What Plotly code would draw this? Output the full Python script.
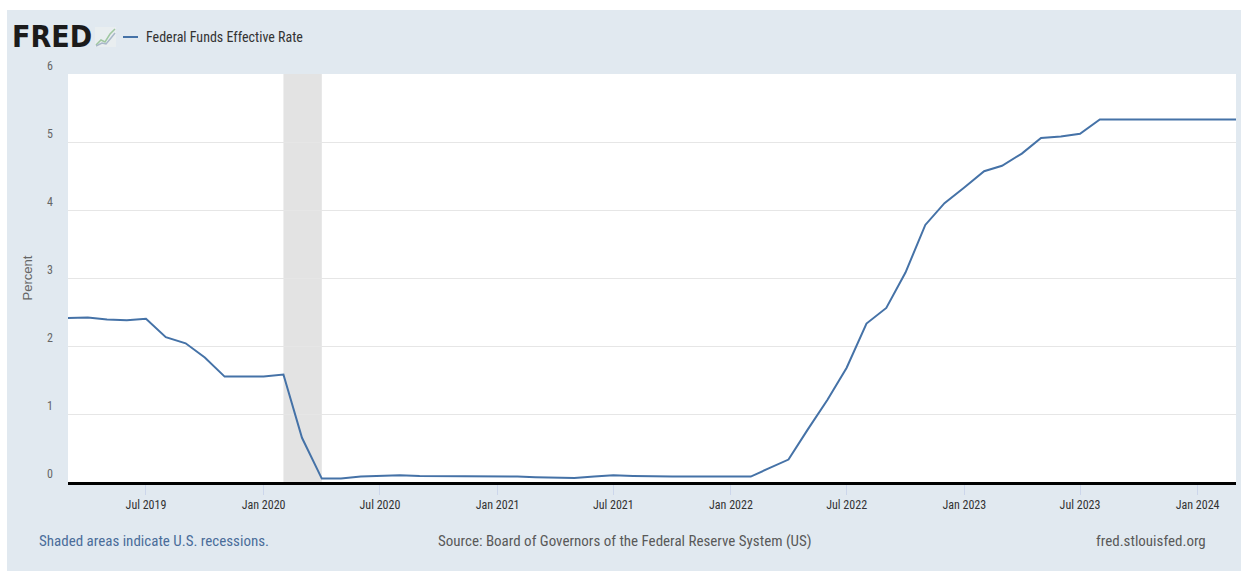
import plotly.graph_objects as go

# ---- data (monthly, first of month) ----
months = [
    "2019-03", "2019-04", "2019-05", "2019-06", "2019-07", "2019-08", "2019-09", "2019-10", "2019-11", "2019-12",
    "2020-01", "2020-02", "2020-03", "2020-04", "2020-05", "2020-06", "2020-07", "2020-08", "2020-09", "2020-10", "2020-11", "2020-12",
    "2021-01", "2021-02", "2021-03", "2021-04", "2021-05", "2021-06", "2021-07", "2021-08", "2021-09", "2021-10", "2021-11", "2021-12",
    "2022-01", "2022-02", "2022-03", "2022-04", "2022-05", "2022-06", "2022-07", "2022-08", "2022-09", "2022-10", "2022-11", "2022-12",
    "2023-01", "2023-02", "2023-03", "2023-04", "2023-05", "2023-06", "2023-07", "2023-08", "2023-09", "2023-10", "2023-11", "2023-12",
    "2024-01", "2024-02", "2024-03",
]
fed_funds_rate = [
    2.41, 2.42, 2.39, 2.38, 2.40, 2.13, 2.04, 1.83, 1.55, 1.55,
    1.55, 1.58, 0.65, 0.05, 0.05, 0.08, 0.09, 0.10, 0.09, 0.09, 0.09, 0.09,
    0.09, 0.08, 0.07, 0.07, 0.06, 0.08, 0.10, 0.09, 0.08, 0.08, 0.08, 0.08,
    0.08, 0.08, 0.20, 0.33, 0.77, 1.21, 1.68, 2.33, 2.56, 3.08, 3.78, 4.10,
    4.33, 4.57, 4.65, 4.83, 5.06, 5.08, 5.12, 5.33, 5.33, 5.33, 5.33, 5.33,
    5.33, 5.33, 5.33,
]
recession_start = "2020-02-01"
recession_end = "2020-04-01"
series_name = "Federal Funds Effective Rate"
y_title = "Percent"
footer_left = "Shaded areas indicate U.S. recessions."
footer_mid = "Source: Board of Governors of the Federal Reserve System (US)"
footer_right = "fred.stlouisfed.org"

dates = [m + "-01" for m in months]

# ---- layout geometry (pixels) ----
W, H = 1248, 571
L, R, T, B = 68, 1236, 74, 482
PW, PH = R - L, B - T


def xp(px):
    return (px - L) / PW


def yp(py):
    return (B - py) / PH


BG = "#e1e9f0"
LINE = "#4572a7"
NARROW = "Liberation Sans Narrow, Arial Narrow, Roboto Condensed, sans-serif"
SANS = "Liberation Sans, Arial, sans-serif"

fig = go.Figure()
fig.add_trace(go.Scatter(
    x=dates, y=fed_funds_rate, mode="lines",
    line=dict(color=LINE, width=2), name=series_name, showlegend=False,
))

shapes = []
# recession band
shapes.append(dict(type="rect", xref="x", yref="paper", x0=recession_start, x1=recession_end,
                   y0=0, y1=1, fillcolor="#e3e3e3", line=dict(width=0), layer="between"))
# white outer borders
for (x0, x1, y0, y1) in [(0, 7, 0, H), (1241, W, 0, H), (0, W, 0, 10)]:
    shapes.append(dict(type="rect", xref="paper", yref="paper", x0=xp(x0), x1=xp(x1),
                       y0=yp(y1), y1=yp(y0), fillcolor="white", line=dict(width=0), layer="above"))
# legend line sample
shapes.append(dict(type="line", xref="paper", yref="paper", x0=xp(123), x1=xp(138),
                   y0=yp(37), y1=yp(37), line=dict(color=LINE, width=2)))
# small logo icon (decorative)
shapes.append(dict(type="rect", xref="paper", yref="paper", x0=xp(95), x1=xp(116),
                   y0=yp(47), y1=yp(27), fillcolor="#e9eef0", line=dict(width=0)))
icon1 = [(96, 45), (101, 40), (105, 42), (110, 34), (115, 29)]
icon2 = [(96, 46), (102, 43), (106, 44), (111, 38), (115, 33)]
for pts, col in [(icon1, "#9fc7a0"), (icon2, "#a9b8c9")]:
    path = "M " + " L ".join(f"{xp(a):.5f},{yp(b):.5f}" for a, b in pts)
    shapes.append(dict(type="path", xref="paper", yref="paper", path=path,
                       line=dict(color=col, width=1.5)))

annotations = [
    dict(text="<b>FRED</b>", xref="paper", yref="paper", x=xp(10), y=yp(36), xanchor="left",
         yanchor="middle", showarrow=False,
         font=dict(family="DejaVu Sans Condensed, DejaVu Sans, sans-serif", size=30, color="#1b1b1b")),
    dict(text=series_name, xref="paper", yref="paper", x=xp(144), y=yp(37), xanchor="left",
         yanchor="middle", showarrow=False, font=dict(family=NARROW, size=14, color="#333333")),
    dict(text=footer_left, xref="paper", yref="paper", x=xp(37), y=yp(541), xanchor="left",
         yanchor="middle", showarrow=False, font=dict(family=NARROW, size=15, color="#4a6d9a")),
    dict(text=footer_mid, xref="paper", yref="paper", x=xp(625), y=yp(541), xanchor="center",
         yanchor="middle", showarrow=False, font=dict(family=NARROW, size=15, color="#595959")),
    dict(text=footer_right, xref="paper", yref="paper", x=xp(1208), y=yp(541), xanchor="right",
         yanchor="middle", showarrow=False, font=dict(family=NARROW, size=15, color="#595959")),
]

fig.update_layout(
    width=W, height=H, autosize=False,
    margin=dict(l=L, r=W - R, t=T, b=H - B, pad=0),
    paper_bgcolor=BG, plot_bgcolor="white",
    shapes=shapes, annotations=annotations,
    hovermode=False,
    xaxis=dict(
        type="date", range=["2019-03-01", "2024-03-01"],
        tick0="2019-07-01", dtick="M6", tickformat="%b %Y",
        showgrid=False, zeroline=False,
        showline=True, linecolor="#000000", linewidth=3,
        ticks="outside", ticklen=10, tickcolor="#ccd6eb", tickwidth=1,
        tickfont=dict(family=NARROW, size=12, color="#333333"),
    ),
    yaxis=dict(
        range=[0, 6], dtick=1, tick0=0,
        showgrid=True, gridcolor="#e6e6e6", gridwidth=1,
        zeroline=False, showline=False, ticks="",
        ticklabelposition="outside top", ticklabelstandoff=14,
        tickfont=dict(family=NARROW, size=12, color="#666666"),
        title=dict(text=y_title, standoff=11,
                   font=dict(family=SANS, size=13, color="#666666")),
    ),
)

fig.write_html("out.html")
